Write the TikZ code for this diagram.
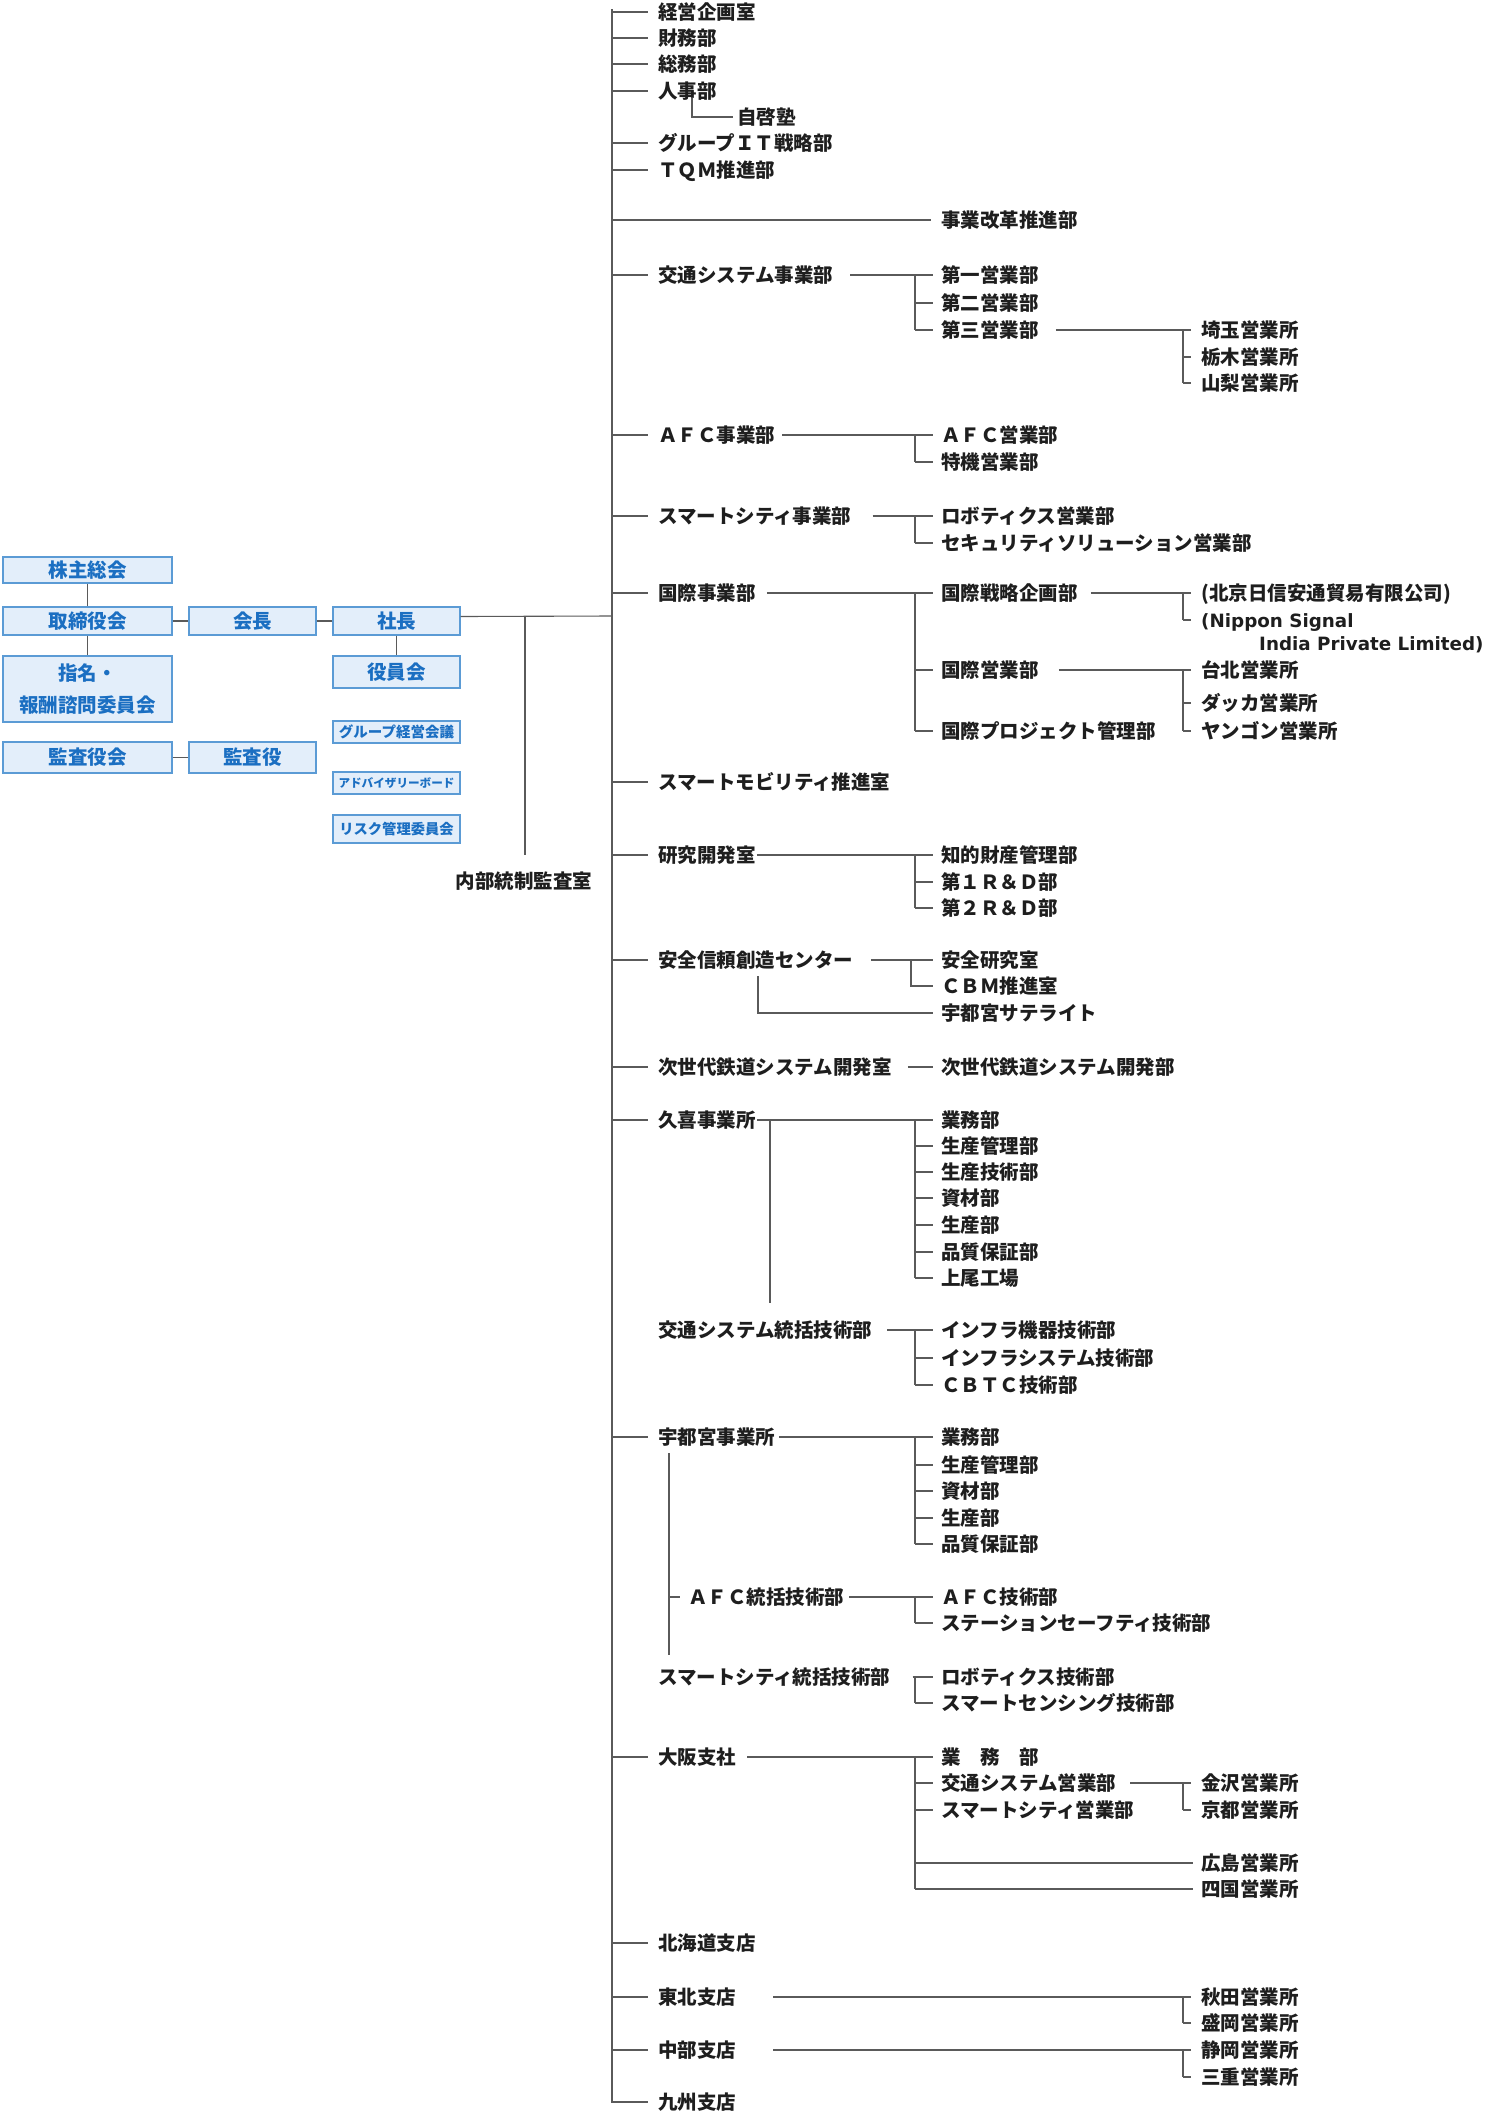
\documentclass[tikz,border=0pt]{standalone}
\usepackage{fontspec}
\setmainfont{Noto Sans CJK JP}
\newfontfamily\latf{DejaVu Sans}
\usetikzlibrary{calc}
\definecolor{lncol}{HTML}{5A5A5A}
\definecolor{txtcol}{HTML}{1E1E1E}
\definecolor{bxfill}{HTML}{E3EEFA}
\definecolor{bxdraw}{HTML}{5B9BD5}
\definecolor{bxtxt}{HTML}{1B6FC2}
\newcommand{\tickB}[1]{\draw[ln] (XB |- #1.west) -- ([xshift=-8pt]#1.west);}
\newcommand{\tickC}[1]{\draw[ln] (XC |- #1.west) -- ([xshift=-10pt]#1.west);}
\newcommand{\tickT}[1]{\draw[ln] (T |- #1.west) -- ([xshift=-10pt]#1.west);}
\begin{document}
\begin{tikzpicture}[x=1pt,y=-1pt,
  ln/.style={draw=lncol,line width=1.1pt},
  tx/.style={anchor=west,inner sep=0pt,text=txtcol,font=\bfseries\fontsize{19.5}{22}\selectfont,text height=16.5pt,text depth=2.2pt},
  bx/.style={draw=bxdraw,fill=bxfill,line width=1.4pt,text=bxtxt,font=\bfseries\fontsize{19.5}{22}\selectfont,inner sep=0pt,align=center},
  bxs/.style={bx,minimum width=127pt},
  bxl/.style={bx,minimum width=169pt}
]
\useasboundingbox[fill=white] (0,0) rectangle (1500,2120);
\coordinate (T) at (612,0);
\coordinate (XB) at (915,0);
\coordinate (XC) at (1183,0);
\coordinate (XU) at (669,0);

% ---------- left boxes ----------
\node[bxl,minimum height=26pt] (kabu) at (87.5,570) {株主総会};
\node[bxl,minimum height=28pt] (tori) at (87.5,621) {取締役会};
\node[bxs,minimum height=28pt] (kaicho) at (252.5,621) {会長};
\node[bxs,minimum height=28pt] (shacho) at (396.5,621) {社長};
\node[bxl,minimum height=66pt,font=\bfseries\fontsize{19.5}{32}\selectfont] (shimei) at (87.5,689) {指名・\\報酬諮問委員会};
\node[bxs,minimum height=32pt] (yakuin) at (396.5,672) {役員会};
\node[bxl,minimum height=31pt] (kansakai) at (87.5,757.5) {監査役会};
\node[bxs,minimum height=31pt] (kansa) at (252.5,757.5) {監査役};
\node[bxs,minimum height=22pt,font=\bfseries\fontsize{14.5}{16}\selectfont] (gkk) at (396.5,732) {グループ経営会議};
\node[bxs,minimum height=22pt,font=\bfseries\fontsize{11.6}{14}\selectfont] (adv) at (396.5,783) {アドバイザリーボード};
\node[bxs,minimum height=28pt,font=\bfseries\fontsize{14.3}{16}\selectfont] (risk) at (396.5,829) {リスク管理委員会};
\node[tx,anchor=center] (naibu) at (524,881) {内部統制監査室};

\draw[ln] (kabu.south) -- (tori.north);
\draw[ln] (tori.south) -- (shimei.north);
\draw[ln] (tori.east) -- (kaicho.west);
\draw[ln] (kaicho.east) -- (shacho.west);
\draw[ln] (kansakai.east) -- (kansa.west);
\draw[ln] (shacho.south) -- (yakuin.north);
\coordinate (J) at (525,616);
\coordinate (Jb) at (525,855);
\draw[ln] ([yshift=4.5pt]shacho.east) -- (T |- J);
\draw[ln] (J) -- (Jb);

% ---------- column A ----------
\node[tx] (a1) at (658,12) {経営企画室};
\node[tx] (a2) at (658,38) {財務部};
\node[tx] (a3) at (658,64) {総務部};
\node[tx] (a4) at (658,91) {人事部};
\node[tx] (jk) at (737,117) {自啓塾};
\node[tx] (a5) at (658,143) {グループＩＴ戦略部};
\node[tx] (a6) at (658,170) {ＴＱＭ推進部};
\node[tx] (jg) at (941,220) {事業改革推進部};
\node[tx] (a7) at (658,275) {交通システム事業部};
\node[tx] (a8) at (658,435) {ＡＦＣ事業部};
\node[tx] (a9) at (658,516) {スマートシティ事業部};
\node[tx] (a10) at (658,593) {国際事業部};
\node[tx] (a11) at (658,782) {スマートモビリティ推進室};
\node[tx] (a12) at (658,855) {研究開発室};
\node[tx] (a13) at (658,960) {安全信頼創造センター};
\node[tx] (a14) at (658,1067) {次世代鉄道システム開発室};
\node[tx] (a15) at (658,1120) {久喜事業所};
\node[tx] (a16) at (658,1330) {交通システム統括技術部};
\node[tx] (a17) at (658,1437) {宇都宮事業所};
\node[tx] (a18) at (688,1597) {ＡＦＣ統括技術部};
\node[tx] (a19) at (658,1677) {スマートシティ統括技術部};
\node[tx] (a20) at (658,1757) {大阪支社};
\node[tx] (a21) at (658,1943) {北海道支店};
\node[tx] (a22) at (658,1997) {東北支店};
\node[tx] (a23) at (658,2050) {中部支店};
\node[tx] (a24) at (658,2102) {九州支店};

% trunk
\draw[ln] (612,9) -- (T |- a24.west) -- ([xshift=-10pt]a24.west);
\foreach \n in {a1,a2,a3,a4,a5,a6,a7,a8,a9,a10,a11,a12,a13,a14,a15,a17,a20,a21,a22,a23}{\tickT{\n}}
\draw[ln] (T |- jg.west) -- ([xshift=-10pt]jg.west);
\draw[ln] (692,98) |- ([xshift=-4pt]jk.west);

% 交通システム事業部
\node[tx] (k1) at (941,275) {第一営業部};
\node[tx] (k2) at (941,303) {第二営業部};
\node[tx] (k3) at (941,330) {第三営業部};
\draw[ln] ([xshift=17pt]a7.east) -- (XB |- a7.east);
\draw[ln] (XB |- k1.west) -- (XB |- k3.west);
\tickB{k1}\tickB{k2}\tickB{k3}
\node[tx] (s1) at (1201,330) {埼玉営業所};
\node[tx] (s2) at (1201,357) {栃木営業所};
\node[tx] (s3) at (1201,383) {山梨営業所};
\draw[ln] ([xshift=17pt]k3.east) -- (XC |- k3.east);
\draw[ln] (XC |- s1.west) -- (XC |- s3.west);
\tickC{s1}\tickC{s2}\tickC{s3}

% ＡＦＣ事業部
\node[tx] (f1) at (941,435) {ＡＦＣ営業部};
\node[tx] (f2) at (941,462) {特機営業部};
\draw[ln] ([xshift=7pt]a8.east) -- (XB |- a8.east);
\draw[ln] (XB |- f1.west) -- (XB |- f2.west);
\tickB{f1}\tickB{f2}

% スマートシティ事業部
\node[tx] (r1) at (941,516) {ロボティクス営業部};
\node[tx] (r2) at (941,543) {セキュリティソリューション営業部};
\draw[ln] ([xshift=21pt]a9.east) -- (XB |- a9.east);
\draw[ln] (XB |- r1.west) -- (XB |- r2.west);
\tickB{r1}\tickB{r2}

% 国際事業部
\node[tx] (i1) at (941,593) {国際戦略企画部};
\node[tx] (i2) at (941,670) {国際営業部};
\node[tx] (i3) at (941,731) {国際プロジェクト管理部};
\draw[ln] ([xshift=11pt]a10.east) -- (XB |- a10.east);
\draw[ln] (XB |- i1.west) -- (XB |- i3.west);
\tickB{i1}\tickB{i2}\tickB{i3}
\node[tx] (p1) at (1201,593) {(北京日信安通貿易有限公司)};
\node[tx,font=\latf\bfseries\fontsize{18.3}{22}\selectfont] (p2) at (1201,620) {(Nippon Signal};
\node[tx,font=\latf\bfseries\fontsize{18.3}{22}\selectfont] (p3) at (1259,643) {India Private Limited)};
\draw[ln] ([xshift=13pt]i1.east) -- (XC |- i1.east);
\draw[ln] (XC |- p1.west) -- (XC |- p2.west);
\tickC{p1}\tickC{p2}
\node[tx] (t1) at (1201,670) {台北営業所};
\node[tx] (t2) at (1201,703) {ダッカ営業所};
\node[tx] (t3) at (1201,731) {ヤンゴン営業所};
\draw[ln] ([xshift=20pt]i2.east) -- (XC |- i2.east);
\draw[ln] (XC |- t1.west) -- (XC |- t3.west);
\tickC{t1}\tickC{t2}\tickC{t3}

% 研究開発室
\node[tx] (d1) at (941,855) {知的財産管理部};
\node[tx] (d2) at (941,882) {第１Ｒ＆Ｄ部};
\node[tx] (d3) at (941,908) {第２Ｒ＆Ｄ部};
\draw[ln] ([xshift=1pt]a12.east) -- (XB |- a12.east);
\draw[ln] (XB |- d1.west) -- (XB |- d3.west);
\tickB{d1}\tickB{d2}\tickB{d3}

% 安全信頼創造センター
\coordinate (XS) at (911,0);
\node[tx] (e1) at (941,960) {安全研究室};
\node[tx] (e2) at (941,986) {ＣＢＭ推進室};
\node[tx] (e3) at (941,1013) {宇都宮サテライト};
\draw[ln] ([xshift=18pt]a13.east) -- ([xshift=-8pt]e1.west);
\draw[ln] (XS |- e1.west) |- ([xshift=-8pt]e2.west);
\draw[ln] (758,976) |- ([xshift=-8pt]e3.west);

% 次世代
\node[tx] (g1) at (941,1067) {次世代鉄道システム開発部};
\draw[ln] ([xshift=16pt]a14.east) -- ([xshift=-8pt]g1.west);

% 久喜事業所
\node[tx] (h1) at (941,1120) {業務部};
\node[tx] (h2) at (941,1146) {生産管理部};
\node[tx] (h3) at (941,1172) {生産技術部};
\node[tx] (h4) at (941,1198) {資材部};
\node[tx] (h5) at (941,1225) {生産部};
\node[tx] (h6) at (941,1252) {品質保証部};
\node[tx] (h7) at (941,1278) {上尾工場};
\draw[ln] ([xshift=1pt]a15.east) -- (XB |- a15.east);
\draw[ln] (XB |- h1.west) -- (XB |- h7.west);
\foreach \n in {h1,h2,h3,h4,h5,h6,h7}{\tickB{\n}}
\draw[ln] (770,1120) -- (770,1303);

% 交通システム統括技術部
\node[tx] (m1) at (941,1330) {インフラ機器技術部};
\node[tx] (m2) at (941,1358) {インフラシステム技術部};
\node[tx] (m3) at (941,1385) {ＣＢＴＣ技術部};
\draw[ln] ([xshift=15pt]a16.east) -- (XB |- a16.east);
\draw[ln] (XB |- m1.west) -- (XB |- m3.west);
\tickB{m1}\tickB{m2}\tickB{m3}

% 宇都宮事業所
\node[tx] (u1) at (941,1437) {業務部};
\node[tx] (u2) at (941,1465) {生産管理部};
\node[tx] (u3) at (941,1491) {資材部};
\node[tx] (u4) at (941,1518) {生産部};
\node[tx] (u5) at (941,1544) {品質保証部};
\draw[ln] ([xshift=4pt]a17.east) -- (XB |- a17.east);
\draw[ln] (XB |- u1.west) -- (XB |- u5.west);
\foreach \n in {u1,u2,u3,u4,u5}{\tickB{\n}}
\draw[ln] (669,1453) -- (669,1655);
\draw[ln] (XU |- a18.west) -- ([xshift=-8pt]a18.west);

% ＡＦＣ統括技術部
\node[tx] (v1) at (941,1597) {ＡＦＣ技術部};
\node[tx] (v2) at (941,1623) {ステーションセーフティ技術部};
\draw[ln] ([xshift=5pt]a18.east) -- (XB |- a18.east);
\draw[ln] (XB |- v1.west) -- (XB |- v2.west);
\tickB{v1}\tickB{v2}

% スマートシティ統括技術部
\node[tx] (w1) at (941,1677) {ロボティクス技術部};
\node[tx] (w2) at (941,1703) {スマートセンシング技術部};
\draw[ln] ([xshift=22pt]a19.east) -- (XB |- a19.east);
\draw[ln] (XB |- w1.west) -- (XB |- w2.west);
\tickB{w1}\tickB{w2}

% 大阪支社
\node[tx] (o1) at (941,1757) {業　務　部};
\node[tx] (o2) at (941,1783) {交通システム営業部};
\node[tx] (o3) at (941,1810) {スマートシティ営業部};
\node[tx] (n1) at (1201,1783) {金沢営業所};
\node[tx] (n2) at (1201,1810) {京都営業所};
\node[tx] (n3) at (1201,1863) {広島営業所};
\node[tx] (n4) at (1201,1889) {四国営業所};
\draw[ln] ([xshift=11pt]a20.east) -- (XB |- a20.east);
\draw[ln] (XB |- o1.west) -- (XB |- n4.west);
\tickB{o1}\tickB{o2}\tickB{o3}
\draw[ln] (XB |- n3.west) -- ([xshift=-8pt]n3.west);
\draw[ln] (XB |- n4.west) -- ([xshift=-8pt]n4.west);
\draw[ln] ([xshift=14pt]o2.east) -- (XC |- o2.east);
\draw[ln] (XC |- n1.west) -- (XC |- n2.west);
\tickC{n1}\tickC{n2}

% 東北支店
\node[tx] (z1) at (1201,1997) {秋田営業所};
\node[tx] (z2) at (1201,2023) {盛岡営業所};
\draw[ln] ([xshift=37pt]a22.east) -- (XC |- a22.east);
\draw[ln] (XC |- z1.west) -- (XC |- z2.west);
\tickC{z1}\tickC{z2}

% 中部支店
\node[tx] (z3) at (1201,2050) {静岡営業所};
\node[tx] (z4) at (1201,2077) {三重営業所};
\draw[ln] ([xshift=37pt]a23.east) -- (XC |- a23.east);
\draw[ln] (XC |- z3.west) -- (XC |- z4.west);
\tickC{z3}\tickC{z4}
\end{tikzpicture}
\end{document}
